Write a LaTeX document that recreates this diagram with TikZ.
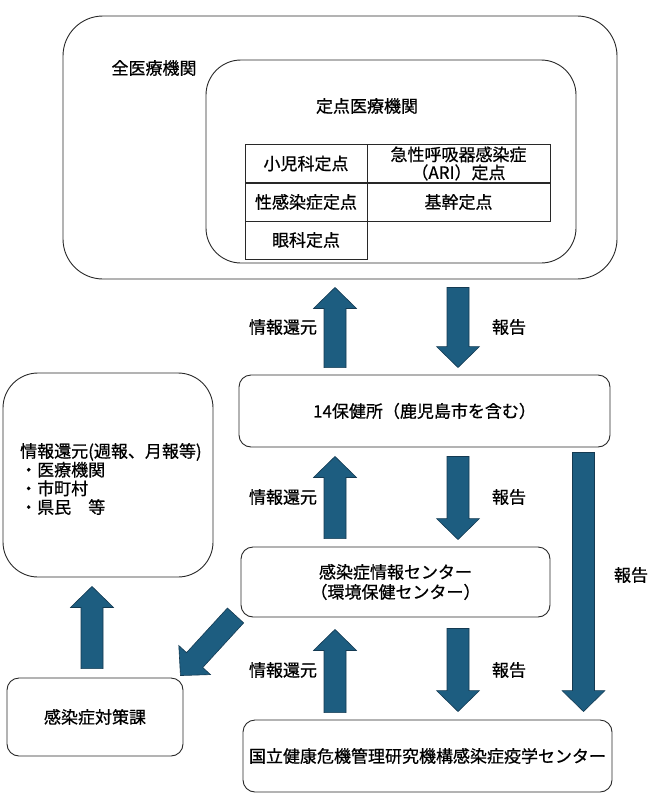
\documentclass[tikz,border=0pt]{standalone}
\usepackage{fontspec}
\setmainfont{Noto Sans CJK JP}[UprightFeatures={FakeBold=0.7}]
\usetikzlibrary{calc}
\definecolor{arrfill}{RGB}{29,93,128}
\definecolor{arrline}{RGB}{20,58,82}
\definecolor{boxline}{RGB}{40,40,40}
\newcommand\blockarr[2]{%
  \path ($(#2)!21pt!(#1)$) coordinate (bp);
  \draw[arr] ($(#1)!11pt!90:(#2)$) -- ($(bp)!11pt!-90:(#1)$) -- ($(bp)!21.5pt!-90:(#1)$) -- (#2) -- ($(bp)!21.5pt!90:(#1)$) -- ($(bp)!11pt!90:(#1)$) -- ($(#1)!11pt!-90:(#2)$) -- cycle;}
\begin{document}
\begin{tikzpicture}[x=1pt,y=-1pt,font=\fontsize{17}{19}\selectfont,
  box/.style={draw=boxline,line width=0.9pt,rounded corners=12pt,inner sep=0pt,align=center},
  cell/.style={draw=boxline,line width=0.9pt,inner sep=0pt,align=center,minimum height=38pt},
  lbl/.style={inner sep=0pt},
  arr/.style={fill=arrfill,draw=arrline,line width=0.6pt,line join=miter}]
\useasboundingbox (0,0) rectangle (652,800);
% top boxes
\node[box,rounded corners=40pt,minimum width=554pt,minimum height=263pt] (outer) at (340,147.5) {};
\node[lbl] (allmed) at (154,68) {全医療機関};
\node[box,rounded corners=35pt,minimum width=370pt,minimum height=203pt] (inner) at (391,161.5) {};
\node[lbl] (fixed) at (367,106) {定点医療機関};
% table
\node[cell,minimum width=122pt] (c11) at (306,163.5) {小児科定点};
\node[cell,minimum width=183pt,font=\fontsize{17}{18}\selectfont] (c12) at (458.5,163.5) {急性呼吸器感染症\\（ARI）定点};
\node[cell,minimum width=122pt] (c21) at (306,202) {性感染症定点};
\node[cell,minimum width=183pt] (c22) at (458.5,202) {基幹定点};
\node[cell,minimum width=122pt] (c31) at (306,240) {眼科定点};
% other boxes
\node[box,minimum width=371pt,minimum height=72pt] (hc) at (424.5,411) {14保健所（鹿児島市を含む）};
\node[box,rounded corners=35pt,minimum width=210pt,minimum height=204pt] (fb) at (108,475) {};
\node[lbl,anchor=west,align=left,font=\fontsize{17}{18.7}\selectfont] (fbt) at (20,479) {情報還元(週報、月報等)\\・医療機関\\・市町村\\・県民　等};
\node[box,minimum width=309pt,minimum height=70pt,font=\fontsize{17}{20}\selectfont] (ic) at (395.5,582) {感染症情報センター\\（環境保健センター）};
\node[box,minimum width=176pt,minimum height=78pt] (tc) at (95,717) {感染症対策課};
\node[box,minimum width=369pt,minimum height=72pt] (niid) at (427.5,756) {国立健康危機管理研究機構感染症疫学センター};
% arrow reference columns
\coordinate (xu) at (335,0);
\coordinate (xd) at (458,0);
\coordinate (xr) at (583.5,0);
\coordinate (xl) at (92,0);
\coordinate (u1s) at ($(hc.north -| xu)+(0,-7)$);
\coordinate (u1e) at ($(outer.south -| xu)+(0,8)$);
\coordinate (d1s) at ($(outer.south -| xd)+(0,8)$);
\coordinate (d1e) at ($(hc.north -| xd)+(0,-7)$);
\coordinate (u2s) at ($(ic.north -| xu)+(0,-8)$);
\coordinate (u2e) at ($(hc.south -| xu)+(0,9)$);
\coordinate (d2s) at ($(hc.south -| xd)+(0,9)$);
\coordinate (d2e) at ($(ic.north -| xd)+(0,-7)$);
\coordinate (u3s) at ($(niid.north -| xu)+(0,-7)$);
\coordinate (u3e) at ($(ic.south -| xu)+(0,12)$);
\coordinate (d3s) at ($(ic.south -| xd)+(0,11)$);
\coordinate (d3e) at ($(niid.north -| xd)+(0,-8)$);
\coordinate (rs) at ($(hc.south -| xr)+(0,5)$);
\coordinate (re) at ($(niid.north -| xr)+(0,-8)$);
\coordinate (ls) at ($(tc.north -| xl)+(0,-9)$);
\coordinate (le) at ($(fb.south -| xl)+(0,9)$);
\coordinate (gs) at ($(ic.south west)+(-5,-2)$);
\coordinate (ge) at ($(tc.north east)+(-3,-2)$);
\blockarr{u1s}{u1e}
\blockarr{d1s}{d1e}
\blockarr{u2s}{u2e}
\blockarr{d2s}{d2e}
\blockarr{u3s}{u3e}
\blockarr{d3s}{d3e}
\blockarr{rs}{re}
\blockarr{ls}{le}
\blockarr{gs}{ge}
% labels
\node[lbl] (l1) at (283,327) {情報還元};
\node[lbl] (r1) at (509,327) {報告};
\node[lbl] (l2) at (283,497) {情報還元};
\node[lbl] (r2) at (509,497) {報告};
\node[lbl] (l3) at (283,670) {情報還元};
\node[lbl] (r3) at (509,670) {報告};
\node[lbl] (rr) at (631,575) {報告};
\end{tikzpicture}
\end{document}
